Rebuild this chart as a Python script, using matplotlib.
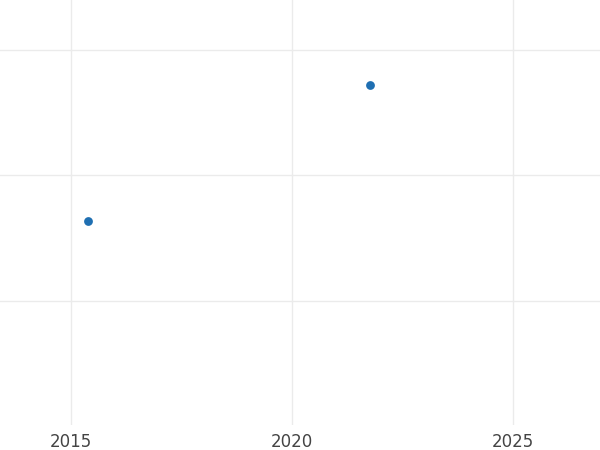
import matplotlib
matplotlib.use("Agg")
import matplotlib.pyplot as plt

years = [2015.38, 2021.76]
values = [1.64, 2.72]
xticks = [2015, 2020, 2025]
yticks = [1, 2, 3]

fig = plt.figure(figsize=(6, 4.5), dpi=100)
ax = fig.add_axes([0, 0.056, 1, 0.944])
ax.scatter(years, values, s=40, color="#1f6fb2", zorder=3, linewidths=0)
ax.set_xlim(2013.39, 2026.97)
ax.set_ylim(0.01, 3.40)
ax.set_xticks(xticks)
ax.set_xticklabels([str(t) for t in xticks])
ax.set_yticks(yticks)
ax.set_yticklabels([])
ax.grid(True, color="#ebebeb", linewidth=1.0)
ax.set_axisbelow(True)
for s in ax.spines.values():
    s.set_visible(False)
ax.tick_params(length=0, labelsize=12, labelcolor="#444444", pad=6)
fig.savefig("out.png", dpi=100)
